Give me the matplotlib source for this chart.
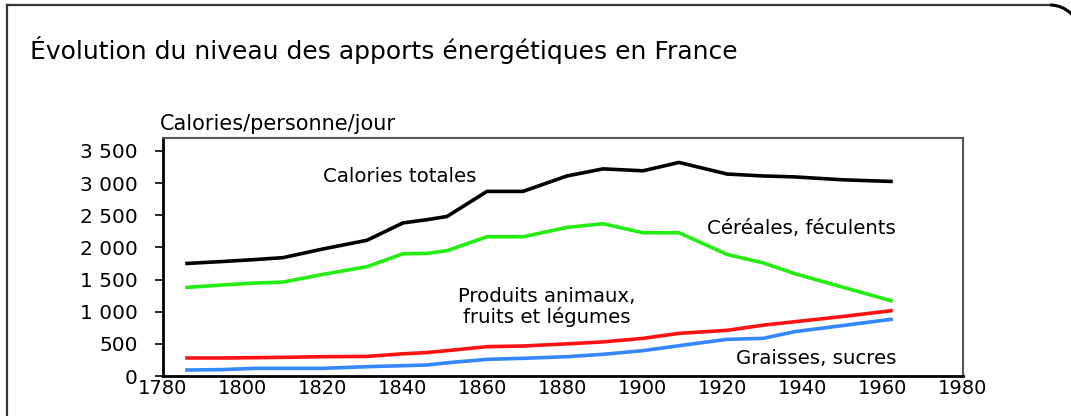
import matplotlib
matplotlib.use("Agg")
import matplotlib.pyplot as plt
from matplotlib.lines import Line2D
from matplotlib.patches import Arc

years = [1786, 1795, 1803, 1810, 1820, 1831, 1840, 1846, 1851, 1861, 1870,
         1881, 1890, 1900, 1909, 1921, 1930, 1938, 1950, 1962]
totales = [1750, 1780, 1810, 1840, 1975, 2110, 2380, 2430, 2480, 2870, 2870,
           3110, 3220, 3190, 3320, 3140, 3110, 3095, 3050, 3025]
cereales = [1378, 1415, 1445, 1460, 1580, 1700, 1900, 1906, 1948, 2165, 2165,
            2310, 2367, 2227, 2227, 1890, 1760, 1590, 1380, 1170]
animaux = [280, 280, 285, 290, 300, 305, 345, 365, 394, 456, 466,
           500, 530, 585, 663, 710, 790, 844, 925, 1015]
graisses = [93, 100, 119, 119, 119, 145, 160, 171, 205, 259, 275,
            300, 337, 394, 471, 570, 585, 690, 785, 881]

xticks = [1780, 1800, 1820, 1840, 1860, 1880, 1900, 1920, 1940, 1960, 1980]
yticks = [0, 500, 1000, 1500, 2000, 2500, 3000, 3500]
ytick_labels = ["0", "500", "1 000", "1 500", "2 000", "2 500", "3 000", "3 500"]

W, H = 1071, 416
fig = plt.figure(figsize=(W / 100, H / 100), dpi=100)
plt.rcParams['font.family'] = ['DejaVu Sans']

def fx(px):
    return px / W

def fy(py):
    return 1 - py / H

ax = fig.add_axes([fx(163), fy(376), fx(963) - fx(163), fy(138) - fy(376)])
lw = 2.6
ax.plot(years, totales, color='black', lw=lw)
ax.plot(years, cereales, color='#22ee11', lw=lw)
ax.plot(years, animaux, color='#ff1111', lw=lw)
ax.plot(years, graisses, color='#3388ff', lw=lw)

ax.set_xlim(1780, 1980)
ax.set_ylim(0, 3700)
ax.set_xticks(xticks)
ax.set_xticklabels([str(v) for v in xticks], fontsize=14)
ax.set_yticks(yticks)
ax.set_yticklabels(ytick_labels, fontsize=14.5)
ax.tick_params(axis='x', length=0, pad=2)
ax.tick_params(axis='y', direction='out', length=6, width=1.2, pad=12)
for s in ['left', 'bottom']:
    ax.spines[s].set_color('black')
    ax.spines[s].set_linewidth(2)
for s in ['top', 'right']:
    ax.spines[s].set_color('#555555')
    ax.spines[s].set_linewidth(1.5)

fs = 14.2
fig.text(fx(30), fy(50), "Évolution du niveau des apports énergétiques en France",
         fontsize=18, ha='left', va='center')
fig.text(fx(160), fy(124), "Calories/personne/jour", fontsize=15, ha='left', va='center')
fig.text(fx(400), fy(176), "Calories totales", fontsize=fs, ha='center', va='center')
fig.text(fx(896), fy(228), "Céréales, féculents", fontsize=fs, ha='right', va='center')
fig.text(fx(547), fy(307), "Produits animaux,\nfruits et légumes", fontsize=fs,
         ha='center', va='center', linespacing=1.05)
fig.text(fx(896), fy(358), "Graisses, sucres", fontsize=fs, ha='right', va='center')

# outer frame with rounded top-right corner (runs off the right edge)
c = '#333333'
r = 30
cx, cy = 1050, 5 + r
fig.add_artist(Line2D([fx(7), fx(7)], [fy(5), fy(416)], color=c, lw=1.6,
                      transform=fig.transFigure))
fig.add_artist(Line2D([fx(7), fx(cx)], [fy(5), fy(5)], color=c, lw=1.6,
                      transform=fig.transFigure))
fig.add_artist(Arc((fx(cx), fy(cy)), 2 * r / W, 2 * r / H, theta1=0, theta2=90,
                   color='black', lw=2.2, transform=fig.transFigure))

fig.savefig("out.png", dpi=100)
